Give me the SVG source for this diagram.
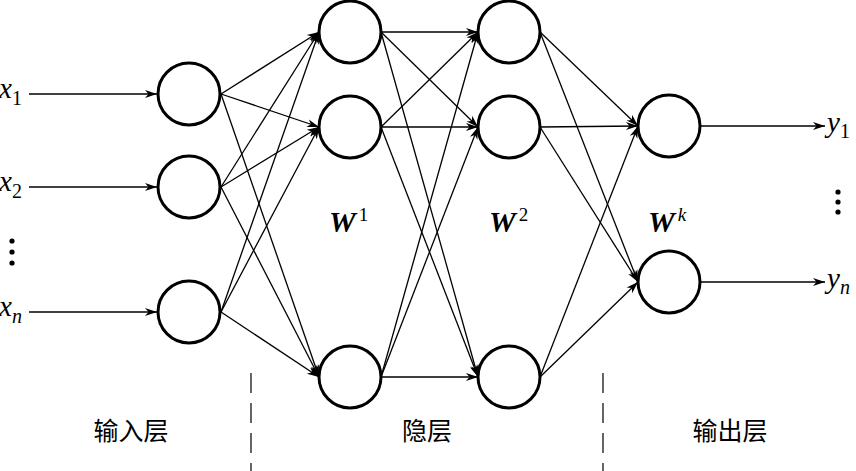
<svg xmlns="http://www.w3.org/2000/svg" width="856" height="471" viewBox="0 0 856 471">
  <style>
    .node { fill: #fff; stroke: #000; stroke-width: 3; }
    .edge { stroke: #000; stroke-width: 1.3; fill: none; marker-end: url(#arr); }
    .dash { stroke: #000; stroke-width: 1.2; stroke-dasharray: 20 10; fill: none; }
    .var { font-family: 'Liberation Serif', 'DejaVu Serif', serif; font-style: italic; font-size: 29px; fill: #000; }
    .sub { font-style: normal; font-size: 20px; }
    .subi { font-style: italic; font-size: 20px; }
    .w { font-family: 'Liberation Serif', 'DejaVu Serif', serif; font-style: italic; font-weight: bold; font-size: 30px; fill: #000; }
    .sup { font-weight: normal; font-style: normal; font-size: 19px; }
    .supi { font-weight: normal; font-style: italic; font-size: 19px; }
    .cn { font-family: 'Noto Sans CJK SC', sans-serif; font-size: 25px; fill: #000; text-anchor: middle; }
    .dot { fill: #000; }
  </style>
  <defs>
    <marker id="arr" viewBox="-1 -5 14 10" refX="12" refY="0" markerWidth="14" markerHeight="10" markerUnits="userSpaceOnUse" orient="auto">
      <path d="M0,-4 L12,0 L0,4 L3.5,0 Z" fill="#000"/>
    </marker>
  </defs>

  <g id="connectors">
    <line class="edge" x1="29" y1="94" x2="157" y2="94"/>
    <line class="edge" x1="29" y1="187" x2="157" y2="187"/>
    <line class="edge" x1="29" y1="312" x2="157" y2="312"/>
    <line class="edge" x1="221" y1="94" x2="319" y2="32"/>
    <line class="edge" x1="221" y1="94" x2="319" y2="127"/>
    <line class="edge" x1="221" y1="94" x2="319" y2="377"/>
    <line class="edge" x1="221" y1="187" x2="319" y2="32"/>
    <line class="edge" x1="221" y1="187" x2="319" y2="127"/>
    <line class="edge" x1="221" y1="187" x2="319" y2="377"/>
    <line class="edge" x1="221" y1="312" x2="319" y2="32"/>
    <line class="edge" x1="221" y1="312" x2="319" y2="127"/>
    <line class="edge" x1="221" y1="312" x2="319" y2="377"/>
    <line class="edge" x1="381" y1="32" x2="478" y2="32"/>
    <line class="edge" x1="381" y1="32" x2="478" y2="127"/>
    <line class="edge" x1="381" y1="32" x2="478" y2="377"/>
    <line class="edge" x1="381" y1="127" x2="478" y2="32"/>
    <line class="edge" x1="381" y1="127" x2="478" y2="127"/>
    <line class="edge" x1="381" y1="127" x2="478" y2="377"/>
    <line class="edge" x1="381" y1="377" x2="478" y2="32"/>
    <line class="edge" x1="381" y1="377" x2="478" y2="127"/>
    <line class="edge" x1="381" y1="377" x2="478" y2="377"/>
    <line class="edge" x1="540" y1="32" x2="638" y2="126"/>
    <line class="edge" x1="540" y1="32" x2="638" y2="282"/>
    <line class="edge" x1="540" y1="127" x2="638" y2="126"/>
    <line class="edge" x1="540" y1="127" x2="638" y2="282"/>
    <line class="edge" x1="540" y1="377" x2="638" y2="126"/>
    <line class="edge" x1="540" y1="377" x2="638" y2="282"/>
    <line class="edge" x1="700" y1="126" x2="825" y2="126"/>
    <line class="edge" x1="700" y1="282" x2="825" y2="282"/>
  </g>

  <g id="input-layer">
    <circle id="in1" class="node" cx="189" cy="94" r="31"/>
    <circle id="in2" class="node" cx="189" cy="187" r="31"/>
    <circle id="in3" class="node" cx="189" cy="312" r="31"/>
  </g>
  <g id="hidden-layer-1">
    <circle id="h11" class="node" cx="350" cy="32" r="31"/>
    <circle id="h12" class="node" cx="350" cy="127" r="31"/>
    <circle id="h13" class="node" cx="350" cy="377" r="31"/>
  </g>
  <g id="hidden-layer-2">
    <circle id="h21" class="node" cx="509" cy="32" r="31"/>
    <circle id="h22" class="node" cx="509" cy="127" r="31"/>
    <circle id="h23" class="node" cx="509" cy="377" r="31"/>
  </g>
  <g id="output-layer">
    <circle id="out1" class="node" cx="669" cy="126" r="31"/>
    <circle id="out2" class="node" cx="669" cy="282" r="31"/>
  </g>

  <g id="labels">
    <text class="var" font-family="Liberation Serif, serif" x="-1" y="98">x<tspan class="sub" dy="7">1</tspan></text>
    <text class="var" font-family="Liberation Serif, serif" x="-1" y="191">x<tspan class="sub" dy="7">2</tspan></text>
    <text class="var" font-family="Liberation Serif, serif" x="-1" y="316">x<tspan class="subi" dy="7">n</tspan></text>
    <circle class="dot" cx="12" cy="241" r="2.6"/>
    <circle class="dot" cx="12" cy="252" r="2.6"/>
    <circle class="dot" cx="12" cy="263" r="2.6"/>

    <text class="var" font-family="Liberation Serif, serif" x="827" y="132">y<tspan class="sub" dy="6">1</tspan></text>
    <text class="var" font-family="Liberation Serif, serif" x="827" y="288">y<tspan class="subi" dy="6">n</tspan></text>
    <circle class="dot" cx="838" cy="192" r="2.6"/>
    <circle class="dot" cx="838" cy="202" r="2.6"/>
    <circle class="dot" cx="838" cy="212" r="2.6"/>

    <text class="w" font-family="Liberation Serif, serif" x="329" y="232">W<tspan class="sup" dx="3" dy="-11">1</tspan></text>
    <text class="w" font-family="Liberation Serif, serif" x="489" y="232">W<tspan class="sup" dx="3" dy="-11">2</tspan></text>
    <text class="w" font-family="Liberation Serif, serif" x="648" y="232">W<tspan class="supi" dx="3" dy="-11">k</tspan></text>

    <text class="cn" x="131" y="440">输入层</text>
    <text class="cn" x="427" y="440">隐层</text>
    <text class="cn" x="730" y="440">输出层</text>
  </g>

  <g id="separators">
    <line class="dash" x1="251" y1="373" x2="251" y2="471"/>
    <line class="dash" x1="603" y1="373" x2="603" y2="471"/>
  </g>
</svg>
